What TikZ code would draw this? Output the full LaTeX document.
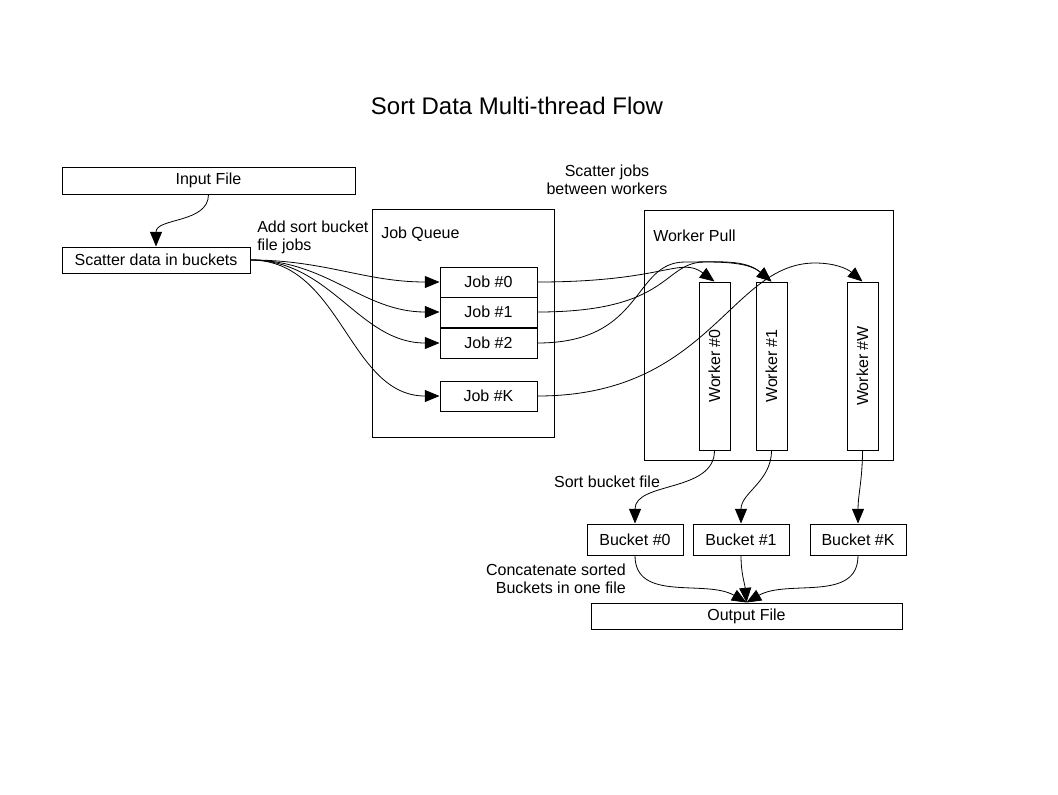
\documentclass[tikz,border=0pt]{standalone}
\usepackage{fontspec}
\setmainfont{Liberation Sans}
\usetikzlibrary{arrows.meta, positioning}
\tikzset{
    box/.style={
        rectangle,
        draw=black,
        line width=0.75pt,
        inner sep=0pt,
        fill=white,
        font=\fontsize{12}{13.5}\selectfont
    },
    container/.style={
        rectangle,
        draw=black,
        line width=0.75pt,
        inner sep=0pt
    },
    caption/.style={
        inner sep=0pt,
        font=\fontsize{12}{13.5}\selectfont
    },
    flow/.style={
        draw=black,
        line width=0.6pt,
        -{Triangle[length=11pt,width=9pt]}
    }
}
\begin{document}
\begin{tikzpicture}[x=0.75pt, y=-0.75pt]
\useasboundingbox (0,0) rectangle (1058,794);

\node[inner sep=0pt, font=\fontsize{18}{20}\selectfont] (title) at (517,106) {Sort Data Multi-thread Flow};

% input side
\node[box, minimum width=219.75pt, minimum height=20.25pt] (input) at (208.5,180.5) {Input File};
\node[box, minimum width=141pt, minimum height=19.5pt] (scatter) at (156,260) {Scatter data in buckets};
\node[caption, anchor=west, align=left] (addlbl) at (257,237) {Add sort bucket\\file jobs};

% job queue
\node[container, minimum width=136.5pt, minimum height=171pt] (queue) at (463,323) {};
\node[caption, anchor=west] (queuelbl) at (381,234) {Job Queue};
\node[box, minimum width=72.75pt, minimum height=22.5pt] (job0) at (488.5,282) {Job \#0};
\node[box, minimum width=72.75pt, minimum height=22.5pt] (job1) at (488.5,312) {Job \#1};
\node[box, minimum width=72.75pt, minimum height=22.5pt] (job2) at (488.5,343) {Job \#2};
\node[box, minimum width=72.75pt, minimum height=22.5pt] (jobK) at (488.5,396) {Job \#K};

% worker pull (rotated: east is the top, west the bottom)
\node[caption, align=center] (scatterlbl) at (607,179.5) {Scatter jobs\\between workers};
\node[container, minimum width=186.75pt, minimum height=187.5pt] (pull) at (768.5,335) {};
\node[caption, anchor=west] (pulllbl) at (653,236) {Worker Pull};
\node[box, rotate=90, minimum width=126pt, minimum height=23.25pt] (w0) at (714.5,366) {Worker \#0};
\node[box, rotate=90, minimum width=126pt, minimum height=23.25pt] (w1) at (771.5,366) {Worker \#1};
\node[box, rotate=90, minimum width=126pt, minimum height=23.25pt] (wW) at (862.5,366) {Worker \#W};

% buckets and output
\node[caption] (sortlbl) at (607,482) {Sort bucket file};
\node[box, minimum width=72pt, minimum height=23.25pt] (b0) at (635,539.5) {Bucket \#0};
\node[box, minimum width=72pt, minimum height=23.25pt] (b1) at (741,539.5) {Bucket \#1};
\node[box, minimum width=72pt, minimum height=23.25pt] (bK) at (858,539.5) {Bucket \#K};
\node[caption, anchor=east, align=right] (catlbl) at (626,579) {Concatenate sorted\\Buckets in one file};
\node[box, minimum width=233.25pt, minimum height=19.5pt] (output) at (746.5,616) {Output File};

\draw[flow] (input.south) to[out=-90, in=90] (scatter.north);

\draw[flow] (scatter.east) to[out=0, in=180] (job0.west);
\draw[flow] (scatter.east) to[out=0, in=180] (job1.west);
\draw[flow] (scatter.east) to[out=0, in=180] (job2.west);
\draw[flow] (scatter.east) to[out=0, in=180] (jobK.west);

\draw[flow] (job0.east) .. controls (665,282) and (680,256) .. (w0.east);
\draw[flow] (job1.east) .. controls (672,312) and (662,262) .. (705,262) to[out=0, in=140] (w1.east);
\draw[flow] (job2.east) .. controls (645,343) and (632,262) .. (685,262) to[out=0, in=140] (w1.east);
\draw[flow] (jobK.east) .. controls (710,396) and (730,263) .. (815,263) to[out=0, in=140] (wW.east);

\draw[flow] (w0.west) to[out=-90, in=90] (b0.north);
\draw[flow] (w1.west) to[out=-90, in=90] (b1.north);
\draw[flow] (wW.west) to[out=-90, in=90] (bK.north);

\draw[flow] (b0.south) to[out=-90, in=150] (output.north);
\draw[flow] (b1.south) to[out=-90, in=95] (output.north);
\draw[flow] (bK.south) to[out=-90, in=30] (output.north);

\end{tikzpicture}
\end{document}
